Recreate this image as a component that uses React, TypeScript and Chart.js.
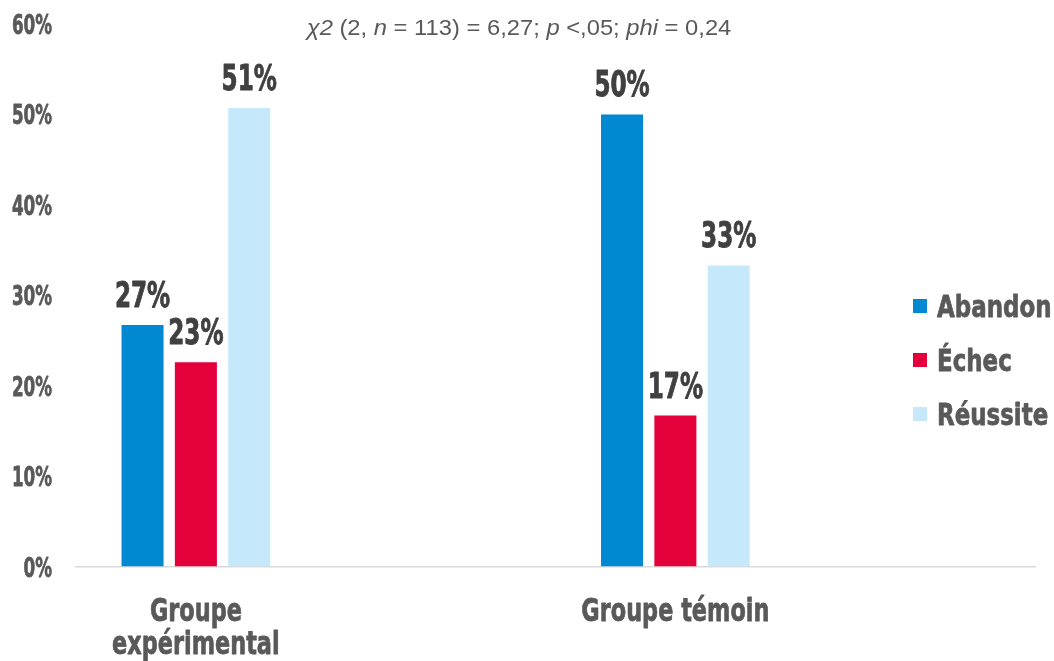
import React, { useEffect, useRef } from "react";
import { Chart, registerables } from "chart.js";

Chart.register(...registerables);

const categories: string[][] = [["Groupe", "expérimental"], ["Groupe témoin"]];
const seriesNames = ["Abandon", "Échec", "Réussite"];
const abandon = [26.7, 50.0];
const echec = [22.6, 16.7];
const reussite = [50.7, 33.3];
const yTicks = [0, 10, 20, 30, 40, 50, 60];
const titleParts: [string, boolean][] = [
  ["χ2", true], [" (2, ", false], ["n", true], [" = 113) = 6,27; ", false],
  ["p", true], [" <,05; ", false], ["phi", true], [" = 0,24", false],
];

const colors = ["#0088D1", "#E4003B", "#C5E9FB"];
const HEAVY = "'DejaVu Sans', sans-serif";
const GRAY = "#595959";

function drawText(ctx: any, text: string, x: number, y: number, font: string, color: string, align: string, sx: number, stroke = 0) {
  ctx.save();
  ctx.translate(x, y);
  ctx.scale(sx, 1);
  ctx.font = font;
  ctx.fillStyle = color;
  ctx.textAlign = align;
  ctx.textBaseline = "alphabetic";
  ctx.fillText(text, 0, 0);
  if (stroke > 0) {
    ctx.strokeStyle = color;
    ctx.lineWidth = stroke;
    ctx.lineJoin = "round";
    ctx.strokeText(text, 0, 0);
  }
  ctx.restore();
}

const overlayPlugin = {
  id: "overlay",
  afterDatasetsDraw(chart: any) {
    const ctx = chart.ctx;
    const xs = chart.scales.x;
    const ys = chart.scales.y;
    ctx.save();
    // y tick labels
    yTicks.forEach((v) => {
      drawText(ctx, `${v}%`, 52, ys.getPixelForValue(v) + 10, `bold 27px ${HEAVY}`, GRAY, "right", 0.62, 0.8);
    });
    // x category labels
    categories.forEach((lines, i) => {
      const cx = xs.getPixelForValue(i);
      lines.forEach((line, li) => {
        drawText(ctx, line, cx, 621 + li * 33, `bold 32px ${HEAVY}`, GRAY, "center", 0.7, 0.8);
      });
    });
    // data labels
    chart.data.datasets.forEach((ds: any, di: number) => {
      const meta = chart.getDatasetMeta(di);
      meta.data.forEach((bar: any, i: number) => {
        const v = ds.data[i].y;
        drawText(ctx, `${Math.round(v)}%`, bar.x, bar.y - 18, `bold 35px ${HEAVY}`, "#404040", "center", 0.66, 0.9);
      });
    });
    // legend
    chart.data.datasets.forEach((ds: any, di: number) => {
      const cy = 306 + di * 54;
      ctx.fillStyle = ds.backgroundColor;
      ctx.fillRect(913, cy - 7, 14, 14);
      drawText(ctx, ds.label, 937, cy + 11, `bold 31px ${HEAVY}`, GRAY, "left", 0.74, 0.8);
    });
    // title
    const size = 22;
    const sx = 1.08;
    let total = 0;
    const widths = titleParts.map(([t, it]) => {
      ctx.font = `${it ? "italic " : ""}${size}px 'Liberation Sans', sans-serif`;
      const w = ctx.measureText(t).width * sx;
      total += w;
      return w;
    });
    let x = 519 - total / 2;
    titleParts.forEach(([t, it], i) => {
      drawText(ctx, t, x, 35, `${it ? "italic " : ""}${size}px 'Liberation Sans', sans-serif`, GRAY, "left", sx);
      x += widths[i];
    });
    ctx.restore();
  },
};

export default function App() {
  const ref = useRef<HTMLCanvasElement>(null);
  useEffect(() => {
    document.body.style.margin = "0";
    const series = [abandon, echec, reussite];
    const chart = new Chart(ref.current!, {
      type: "bar",
      data: {
        datasets: series.map((vals, si) => ({
          label: seriesNames[si],
          data: vals.map((v, i) => ({ x: i, y: v })),
          backgroundColor: colors[si],
          borderWidth: 0,
          categoryPercentage: 0.3337,
          barPercentage: 0.788,
        })),
      },
      options: {
        animation: false,
        responsive: false,
        devicePixelRatio: 1,
        layout: { padding: { top: 24, right: 19, left: 0, bottom: 0 } },
        plugins: { legend: { display: false }, tooltip: { enabled: false }, title: { display: false } },
        scales: {
          x: {
            type: "linear",
            offset: false,
            min: -0.25,
            max: 1.75,
            grid: { display: false, drawTicks: false },
            border: { display: true, color: "#D9D9D9", width: 1.5 },
            afterBuildTicks: (scale: any) => {
              scale.ticks = categories.map((_, i) => ({ value: i }));
            },
            afterFit: (scale: any) => {
              scale.height = 94.5;
            },
            ticks: { display: false },
          },
          y: {
            min: 0,
            max: 60,
            grid: { display: false, drawTicks: false },
            border: { display: false },
            afterBuildTicks: (scale: any) => {
              scale.ticks = yTicks.map((v) => ({ value: v }));
            },
            afterFit: (scale: any) => {
              scale.width = 76;
            },
            ticks: { display: false },
          },
        },
      },
      plugins: [overlayPlugin],
    } as any);
    return () => chart.destroy();
  }, []);
  return (
    <div style={{ position: "fixed", left: 0, top: 0, width: 1054, height: 661, background: "#fff" }}>
      <canvas ref={ref} width={1054} height={661} />
    </div>
  );
}
